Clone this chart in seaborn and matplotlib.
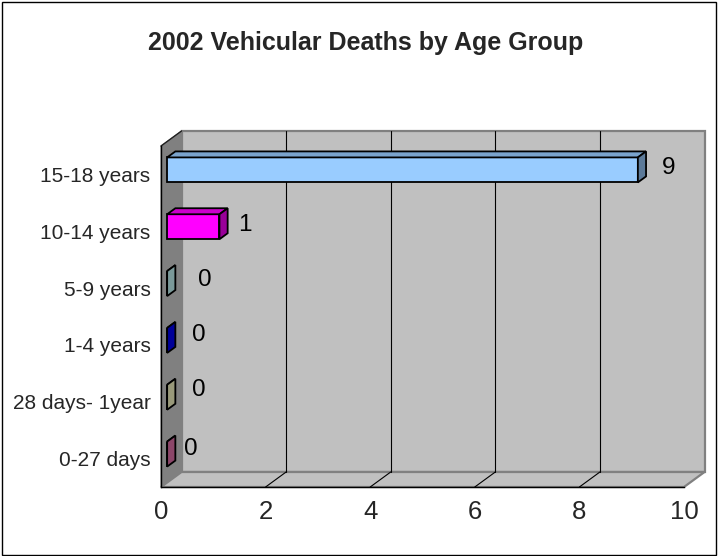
import matplotlib
matplotlib.use("Agg")
import matplotlib.pyplot as plt
from matplotlib.patches import Polygon, Rectangle
import matplotlib.colors as mcolors
import numpy as np
import pandas as pd
import seaborn as sns

# ---- data ----
categories = ["15-18 years", "10-14 years", "5-9 years", "1-4 years",
              "28 days- 1year", "0-27 days"]
deaths = [9, 1, 0, 0, 0, 0]
bar_colors = ["#99CCFF", "#FF00FF", "#CCFFFF", "#0000FF", "#FFFFCC", "#E975AF"]
x_ticks = [0, 2, 4, 6, 8, 10]
title = "2002 Vehicular Deaths by Age Group"

# label offsets (pixels) from bar value point, per bar
label_dx = [37, 32, 44, 38, 38, 30]
label_dy = [6, 6, 8, 10, 12, 10]

sns.set_style("white")
plt.rcParams["font.family"] = ["Liberation Sans", "DejaVu Sans"]

W, H = 718, 556
fig = plt.figure(figsize=(W / 100, H / 100), dpi=100)
fig.patch.set_facecolor("white")

# front plane of axes
x0, x1, ytop, ybot = 161, 684, 146, 487
ax = fig.add_axes([x0 / W, 1 - ybot / H, (x1 - x0) / W, (ybot - ytop) / H])
ax.patch.set_visible(False)

df = pd.DataFrame({"cat": categories, "val": deaths})
sns.barplot(data=df, x="val", y="cat", hue="cat", palette=bar_colors,
            orient="h", width=0.44, dodge=False, legend=False,
            edgecolor="black", linewidth=1.3, saturation=1, ax=ax, zorder=3)

ax.set_xlim(0, 10)
ax.set_ylim(5.5, -0.5)

# depth vector in data units (full depth)
Dx = 20.5 / ((x1 - x0) / 10.0)
Dy = -15.0 / ((ybot - ytop) / 6.0)

yl, yh = -0.5, 5.5
# back wall
ax.add_patch(Polygon([(Dx, yl + Dy), (10 + Dx, yl + Dy), (10 + Dx, yh + Dy), (Dx, yh + Dy)],
                     closed=True, facecolor="#C0C0C0", edgecolor="#808080",
                     linewidth=1.6, clip_on=False, zorder=0.1))
# left wall
ax.add_patch(Polygon([(0, yl), (Dx, yl + Dy), (Dx, yh + Dy), (0, yh)],
                     closed=True, facecolor="#808080", edgecolor="#808080",
                     linewidth=0.8, clip_on=False, zorder=0.2))
ax.plot([0, Dx], [yl, yl + Dy], color="#202020", lw=1.0, clip_on=False, zorder=0.25)
# floor
ax.add_patch(Polygon([(0, yh), (10, yh), (10 + Dx, yh + Dy), (Dx, yh + Dy)],
                     closed=True, facecolor="#C0C0C0", edgecolor="#808080",
                     linewidth=1.6, clip_on=False, zorder=0.2))
# gridlines
for t in x_ticks[1:-1]:
    ax.plot([t + Dx, t + Dx], [yl + Dy, yh + Dy], color="black", lw=0.8,
            clip_on=False, zorder=0.3)
    ax.plot([t, t + Dx], [yh, yh + Dy], color="black", lw=0.8,
            clip_on=False, zorder=0.3)

# 3D bars: shift fronts to depth 0.3, add top and side faces
d0, dd = 0.3, 0.4
bars = [p for p in ax.patches if isinstance(p, Rectangle)]
for p, col in zip(bars, bar_colors):
    bx, by, bw, bh = p.get_x(), p.get_y(), p.get_width(), p.get_height()
    bx += d0 * Dx
    by += d0 * Dy
    p.set_x(bx)
    p.set_y(by)
    rgb = np.array(mcolors.to_rgb(col))
    side = tuple(rgb * 0.6)
    top = tuple(rgb * 0.8)
    ex, ey = dd * Dx, dd * Dy
    yt = by
    yb = by + bh
    ax.add_patch(Polygon([(bx, yt), (bx + bw, yt), (bx + bw + ex, yt + ey), (bx + ex, yt + ey)],
                         closed=True, facecolor=top, edgecolor="black",
                         linewidth=1.3, zorder=3, clip_on=False))
    ax.add_patch(Polygon([(bx + bw, yt), (bx + bw + ex, yt + ey), (bx + bw + ex, yb + ey), (bx + bw, yb)],
                         closed=True, facecolor=side, edgecolor="black",
                         linewidth=1.3, zorder=3, clip_on=False))

# data labels
for i, (v, dxp, dyp) in enumerate(zip(deaths, label_dx, label_dy)):
    ax.annotate(str(v), xy=(v, i), xytext=(dxp, dyp), textcoords="offset pixels",
                ha="center", va="center", fontsize=17.5, color="black",
                annotation_clip=False, zorder=5)

# axes styling
for s in ["top", "right"]:
    ax.spines[s].set_visible(False)
for s in ["left", "bottom"]:
    ax.spines[s].set_color("black")
    ax.spines[s].set_linewidth(1.0)
    ax.spines[s].set_zorder(4)

ax.set_xticks(x_ticks)
ax.set_xticklabels([str(t) for t in x_ticks], fontsize=18.5)
ax.tick_params(axis="x", length=4.3, width=1, color="black", direction="out", pad=5)

ax.set_yticks(range(len(categories)))
ax.set_yticklabels(categories, fontsize=15, va="center_baseline")
ax.set_yticks(np.arange(-0.5, len(categories), 1.0), minor=True)
ax.tick_params(axis="y", which="major", length=0, pad=7.5)
ax.tick_params(axis="y", which="minor", length=4.3, width=1, color="black", direction="out")
ax.set_xlabel("")
ax.set_ylabel("")
ax.grid(False)

fig.text(366 / W, 1 - 43 / H, title, ha="center", va="center",
         fontsize=18, fontweight="bold")

fig.add_artist(Rectangle((1.5 / W, 1.5 / H), (W - 3.5) / W, (H - 3.5) / H,
                         transform=fig.transFigure, fill=False,
                         edgecolor="black", linewidth=1.0))

fig.savefig("out.png", dpi=100)
